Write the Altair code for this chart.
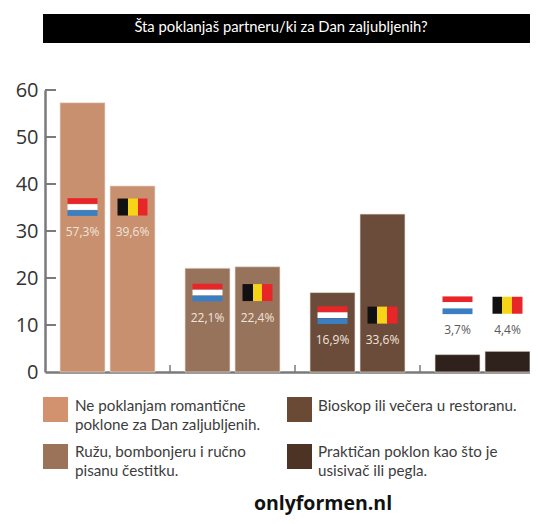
import altair as alt
import pandas as pd

title = "Šta poklanjaš partneru/ki za Dan zaljubljenih?"
source = "onlyformen.nl"
groups = ["Ne poklanjam", "Ružu", "Bioskop", "Praktičan"]
countries = ["NL", "BE"]
values_nl = [57.3, 22.1, 16.9, 3.7]
values_be = [39.6, 22.4, 33.6, 4.4]
labels_nl = ["57,3%", "22,1%", "16,9%", "3,7%"]
labels_be = ["39,6%", "22,4%", "33,6%", "4,4%"]
flag_levels = [35.1, 16.9, 12.1, 14.2]
colors = ["#C8906F", "#98735C", "#6B4C3A", "#2F221C"]
swatch_colors = ["#D29270", "#9B7358", "#6B4A35", "#4C3324"]
legend_lines = [
    ["Ne poklanjam romantične", "poklone za Dan zaljubljenih."],
    ["Ružu, bombonjeru i ručno", "pisanu čestitku."],
    ["Bioskop ili večera u restoranu."],
    ["Praktičan poklon kao što je", "usisivač ili pegla."],
]
y_ticks = [0, 10, 20, 30, 40, 50, 60]

# page position of the plot origin
OX, OY = 45, 90
rows = []
for i, g in enumerate(groups):
    for c, v, l in ((countries[0], values_nl[i], labels_nl[i]), (countries[1], values_be[i], labels_be[i])):
        rows.append({"group": g, "country": c, "value": v, "label": l, "flag": flag_levels[i],
                     "text_col": "#5A5A5A" if i == 3 else "#F1E4DA"})
df = pd.DataFrame(rows)

x_scale = alt.Scale(domain=groups, range=[0, 500], paddingInner=0, paddingOuter=0)
off_scale = alt.Scale(domain=countries, range=[15, 110], paddingInner=0.1, paddingOuter=0)
y_scale = alt.Scale(domain=[0, 60], nice=False)
X = alt.X("group:N", scale=x_scale, sort=groups,
          axis=alt.Axis(title=None, labels=False, ticks=False, domainColor="#7A7A7A", domainWidth=2.5, grid=False))
XO = alt.XOffset("country:N", scale=off_scale, sort=countries)
Y = alt.Y("value:Q", scale=y_scale,
          axis=alt.Axis(title=None, values=y_ticks, ticks=False, grid=False, domainColor="#7A7A7A", domainWidth=2.5,
                        labelFontSize=20, labelFont="Open Sans", labelColor="#333333", labelPadding=7,
                        labelBaseline="middle"))

bars = alt.Chart(df).mark_bar(stroke="#EADFD6", strokeWidth=0.7).encode(
    x=X, xOffset=XO, y=Y,
    color=alt.Color("group:N", scale=alt.Scale(domain=groups, range=colors), legend=None))

# inward y ticks
y_tick_layer = alt.Chart(pd.DataFrame({"value": y_ticks[1:]})).mark_rule(color="#7A7A7A", strokeWidth=2).encode(
    y=alt.Y("value:Q", scale=y_scale), x=alt.value(0), x2=alt.value(11))
# short x ticks between groups
x_tick_layer = alt.Chart(pd.DataFrame({"group": groups[1:]})).mark_rule(color="#7A7A7A", strokeWidth=1.5).encode(
    x=alt.X("group:N", scale=x_scale, bandPosition=0), y=alt.value(275), y2=alt.value(282))

FY = alt.Y("flag:Q", scale=y_scale)
nl = df[df.country == "NL"]
be = df[df.country == "BE"]

def nl_stripe(col, dy):
    return alt.Chart(nl).mark_rect(color=col, width=30, height=5.7, yOffset=dy).encode(
        x=alt.X("group:N", scale=x_scale, sort=groups), xOffset=XO, y=FY)

third, two_thirds = 1 / 3, 2 / 3
be_gradient = alt.LinearGradient(gradient="linear", x1=0, x2=1, y1=0, y2=0, stops=[
    alt.GradientStop(offset=0, color="#111111"), alt.GradientStop(offset=third, color="#111111"),
    alt.GradientStop(offset=third, color="#F7D417"), alt.GradientStop(offset=two_thirds, color="#F7D417"),
    alt.GradientStop(offset=two_thirds, color="#E8262A"), alt.GradientStop(offset=1, color="#E8262A"),
])
be_flag = alt.Chart(be).mark_rect(color=be_gradient, width=30, height=17).encode(
    x=alt.X("group:N", scale=x_scale, sort=groups), xOffset=XO, y=FY)

flag_layers = [nl_stripe("#E8262A", -6), nl_stripe("#FFFFFF", 0), nl_stripe("#3A7FC1", 6), be_flag]

pct = alt.Chart(df).mark_text(fontSize=12, font="Open Sans", yOffset=25, baseline="middle").encode(
    x=alt.X("group:N", scale=x_scale, sort=groups), xOffset=XO, y=FY, text="label:N",
    color=alt.Color("text_col:N", scale=None))

band = alt.Chart(pd.DataFrame({"t": [title]})).mark_rect(color="#000000").encode(
    x=alt.value(43 - OX), x2=alt.value(538 - OX), y=alt.value(14 - OY), y2=alt.value(43 - OY))
band_text = alt.Chart(pd.DataFrame({"t": [title]})).mark_text(
    color="#FFFFFF", fontSize=14.8, font="Lato", align="center", baseline="middle").encode(
    x=alt.value(281 - OX), y=alt.value(28 - OY), text="t:N")

cols = [43, 43, 287, 287]
tops = [397, 444, 397, 444]
sw_rows, tx_rows = [], []
for i in range(4):
    sw_rows.append({"x": cols[i] - OX, "x2": cols[i] + 25 - OX, "y": tops[i] - OY, "y2": tops[i] + 25 - OY, "c": swatch_colors[i]})
    for j, line in enumerate(legend_lines[i]):
        tx_rows.append({"x": cols[i] + (32 if i < 2 else 31) - OX, "y": tops[i] + (9 if i in (0, 2) else 8) + 19 * j - OY, "t": line})
swatches = alt.Chart(pd.DataFrame(sw_rows)).mark_rect().encode(
    x=alt.X("x:Q", scale=None), x2="x2:Q", y=alt.Y("y:Q", scale=None), y2="y2:Q", color=alt.Color("c:N", scale=None))
leg_text = alt.Chart(pd.DataFrame(tx_rows)).mark_text(
    align="left", baseline="middle", fontSize=15.2, font="Lato", color="#3C3C3C").encode(
    x=alt.X("x:Q", scale=None), y=alt.Y("y:Q", scale=None), text="t:N")

src = alt.Chart(pd.DataFrame({"t": [source]})).mark_text(
    fontSize=19.5, font="Open Sans", fontWeight="bold", color="#111111", align="center", baseline="alphabetic").encode(
    x=alt.value(323 - OX), y=alt.value(510 - OY), text="t:N")

chart = alt.layer(bars, y_tick_layer, x_tick_layer, *flag_layers, pct, band, band_text, swatches, leg_text, src).resolve_scale(
    x="shared", y="shared", color="independent"
).properties(
    width=485, height=282,
    padding={"left": OX - 8, "top": OY - 8, "right": 0, "bottom": 508 - (OY - 8) - 282},
    autosize=alt.AutoSizeParams(type="none"),
).configure_view(stroke=None)

chart.save("out.html", embed_options={"renderer": "svg", "actions": False})
